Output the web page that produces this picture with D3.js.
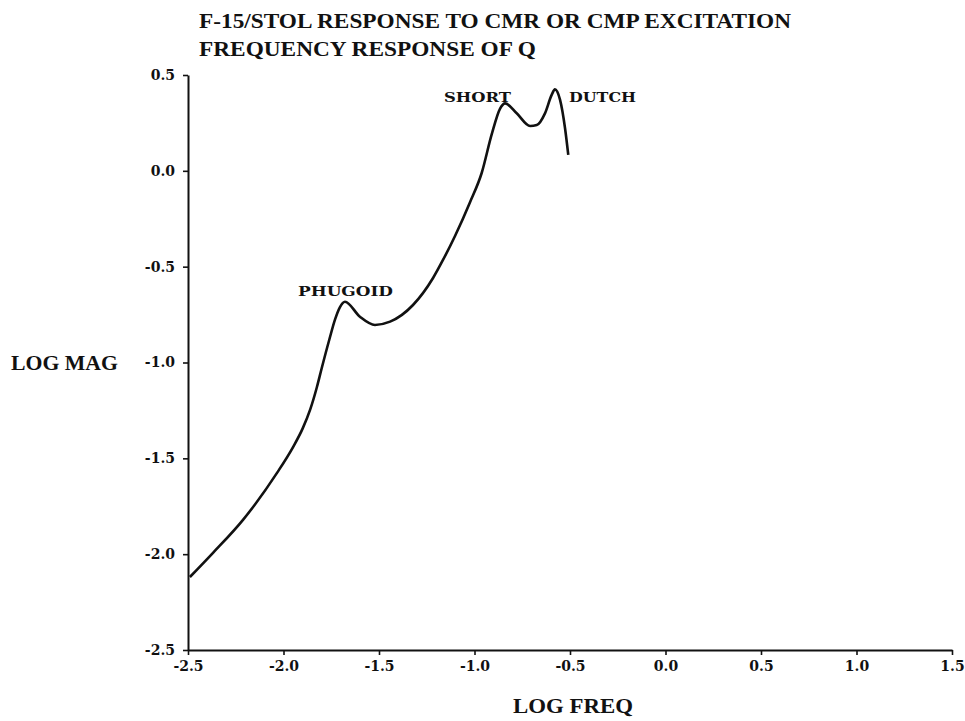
<!DOCTYPE html>
<html>
<head>
<meta charset="utf-8">
<script src="https://cdn.jsdelivr.net/npm/d3@7/dist/d3.min.js"></script>
<style>
  html, body { margin: 0; padding: 0; background: #fff; }
  svg { display: block; }
  text { font-family: "DejaVu Serif", "Liberation Serif", serif; font-weight: bold; fill: #111; }
</style>
</head>
<body>
<svg id="chart" width="965" height="721"></svg>
<script>
// Frequency response of pitch rate Q (log magnitude vs log frequency)
const logFreq = [-2.49, -2.369, -2.212, -2.034, -1.950, -1.900, -1.860, -1.825, -1.800, -1.760,
                 -1.730, -1.705, -1.678, -1.600, -1.521, -1.442, -1.322, -1.217, -1.165, -1.102,
                 -1.024, -0.962, -0.910, -0.866, -0.840, -0.779, -0.709, -0.674, -0.631, -0.596,
                 -0.579, -0.552, -0.526, -0.509];
const logMag  = [-2.119, -1.993, -1.821, -1.576, -1.441, -1.345, -1.245, -1.128, -1.030, -0.880,
                 -0.775, -0.712, -0.683, -0.761, -0.804, -0.787, -0.700, -0.559, -0.465, -0.340,
                 -0.165, -0.010, 0.190, 0.325, 0.352, 0.300, 0.234, 0.239, 0.300, 0.396,
                 0.425, 0.370, 0.222, 0.083];

const xTicks = [-2.5, -2.0, -1.5, -1.0, -0.5, 0.0, 0.5, 1.0, 1.5];
const yTicks = [0.5, 0.0, -0.5, -1.0, -1.5, -2.0, -2.5];

const titleLines = ["F-15/STOL RESPONSE TO CMR OR CMP EXCITATION", "FREQUENCY RESPONSE OF Q"];
const modeLabels = ["PHUGOID", "SHORT", "DUTCH"];
// label anchors (log freq, log mag) of the text start/baseline
const modeAt = [[-1.924, -0.653], [-1.160, 0.359], [-0.505, 0.359]];

const svg = d3.select("#chart");
const plotLeft = 188, plotRight = 952, plotTop = 75, plotBottom = 650;

const x = d3.scaleLinear().domain([-2.5, 1.5]).range([plotLeft, plotRight]);
const y = d3.scaleLinear().domain([-2.5, 0.5]).range([plotBottom, plotTop]);

// plain hyphen for negatives
const fmt = v => d3.format(".1f")(v).replace("\u2212", "-");

// Axes
const xAxis = svg.append("g")
  .attr("transform", `translate(0,${plotBottom})`)
  .call(d3.axisBottom(x).tickValues(xTicks).tickFormat(fmt).tickSize(5).tickSizeOuter(0).tickPadding(6));
const yAxis = svg.append("g")
  .attr("transform", `translate(${plotLeft},0)`)
  .call(d3.axisLeft(y).tickValues(yTicks).tickFormat(fmt).tickSize(5).tickSizeOuter(0).tickPadding(8));

[xAxis, yAxis].forEach(g => {
  g.select(".domain").attr("stroke", "#111").attr("stroke-width", 2);
  g.selectAll(".tick line").attr("stroke", "#111").attr("stroke-width", 1.6);
  g.selectAll(".tick text")
    .style("font-family", '"DejaVu Serif", serif')
    .style("font-weight", "bold")
    .style("font-size", "14px")
    .attr("fill", "#111");
});

// Response curve
const pts = logFreq.map((f, i) => [f, logMag[i]]);
svg.append("path")
  .datum(pts)
  .attr("fill", "none")
  .attr("stroke", "#111")
  .attr("stroke-width", 2.6)
  .attr("stroke-linejoin", "round")
  .attr("d", d3.line().x(d => x(d[0])).y(d => y(d[1])).curve(d3.curveMonotoneX));

// Mode labels
const modeWidths = [95, 67, 67];
svg.selectAll(".mode")
  .data(modeLabels)
  .join("text")
  .attr("class", "mode")
  .attr("x", (d, i) => x(modeAt[i][0]))
  .attr("y", (d, i) => y(modeAt[i][1]))
  .attr("textLength", (d, i) => modeWidths[i])
  .attr("lengthAdjust", "spacingAndGlyphs")
  .style("font-size", "13px")
  .text(d => d);

// Title
const titleWidths = [592, 337];
svg.selectAll(".title")
  .data(titleLines)
  .join("text")
  .attr("class", "title")
  .attr("x", 199)
  .attr("y", (d, i) => 28 + i * 28)
  .attr("textLength", (d, i) => titleWidths[i])
  .attr("lengthAdjust", "spacingAndGlyphs")
  .style("font-family", '"Liberation Serif", serif')
  .style("font-size", "22px")
  .text(d => d);

// Axis titles
svg.append("text")
  .attr("x", 11).attr("y", y(-1.0) + 7)
  .attr("textLength", 107)
  .attr("lengthAdjust", "spacingAndGlyphs")
  .style("font-family", '"Liberation Serif", serif')
  .style("font-size", "20px")
  .text("LOG MAG");
svg.append("text")
  .attr("x", 513).attr("y", 713)
  .attr("textLength", 120)
  .attr("lengthAdjust", "spacingAndGlyphs")
  .style("font-family", '"Liberation Serif", serif')
  .style("font-size", "20px")
  .text("LOG FREQ");
</script>
</body>
</html>
